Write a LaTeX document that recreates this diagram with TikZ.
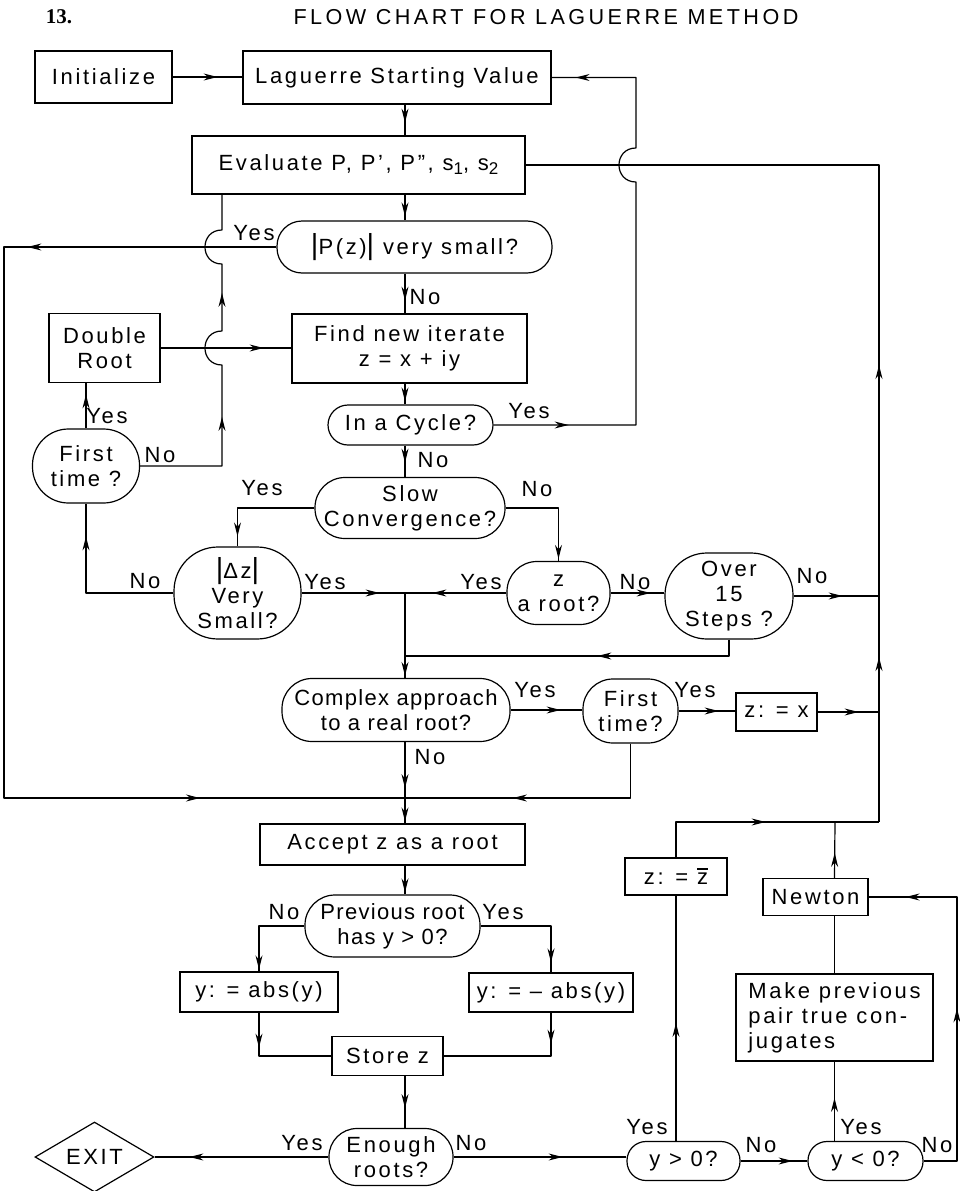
\documentclass[tikz,border=0pt]{standalone}
\usepackage{fontspec}
\setmainfont{Liberation Sans}[LetterSpace=12]
\newfontfamily\numfont{Liberation Serif}
\usetikzlibrary{arrows.meta,decorations.markings,calc,shapes.geometric}
\tikzset{
  every node/.style={font=\fontsize{22}{25}\selectfont},
  tight/.style={font=\fontsize{22}{25}\selectfont\addfontfeatures{LetterSpace=6}},
  box/.style={draw, line width=1.2pt, inner sep=0pt, align=center},
  term/.style={box, rounded corners=#1},
  lbl/.style={inner sep=0pt},
  conn/.style={line width=1.2pt, line join=round},
  arrat/.style={postaction={decorate,decoration={markings,
      mark=at position #1 with {\arrow{Stealth[length=14pt,width=7pt]}}}}},
}
\newcommand{\bigbar}{{\fontsize{29}{29}\selectfont|}}
\newcommand{\zbar}{\makebox[0pt][l]{\rule[15pt]{11pt}{1.3pt}}z}
\begin{document}
\begin{tikzpicture}[x=1pt,y=-1pt]
\useasboundingbox (0,0) rectangle (959,1191);
% title
\node[font=\numfont\bfseries\fontsize{21}{21}\selectfont] (num) at (59,17) {13.};
\node[font=\fontsize{21.6}{22}\selectfont\addfontfeatures{LetterSpace=16}] (title) at (546,17) {FLOW CHART FOR LAGUERRE METHOD};
% column coordinates
\coordinate (cx) at (405,0);
\coordinate (rx) at (879,0);
\coordinate (lx) at (4,0);
\coordinate (hx) at (222,0);
\coordinate (qx) at (636,0);
\coordinate (nx) at (957,0);
\coordinate (m15) at (727,656);
\coordinate (jb) at (405,798);
\coordinate (jn) at (835,822);
% nodes
\node[box, minimum width=137pt, minimum height=52pt] (init) at (103.5,77) {Initialize};
\node[box, minimum width=308pt, minimum height=53pt] (lag) at (397,77.5) {Laguerre Starting Value};
\node[box, minimum width=333pt, minimum height=58pt] (eval) at (358.5,165) {Evaluate P, P', P'', s\raisebox{-4pt}{\fontsize{17}{17}\selectfont 1}, s\raisebox{-4pt}{\fontsize{17}{17}\selectfont 2}};
\node[term=25pt, minimum width=275pt, minimum height=52pt] (pz) at (414.5,247) {\bigbar P(z)\bigbar\ very small?};
\node[box, minimum width=235pt, minimum height=69pt] (find) at (409.5,348.5) {Find new iterate\\z = x + iy};
\node[box, minimum width=111pt, minimum height=69pt] (dbl) at (104.5,348) {Double\\Root};
\node[term=36pt, minimum width=107pt, minimum height=74pt] (ft1) at (86,466) {First\\time ?};
\node[term=20pt, minimum width=165pt, minimum height=40pt] (cyc) at (410.5,425) {In a Cycle?};
\node[term=30pt, minimum width=190pt, minimum height=61pt] (slow) at (410,508) {Slow\\Convergence?};
\node[term=44pt, minimum width=127pt, minimum height=92pt] (dz) at (237.5,593) {\bigbar Δz\bigbar\\Very\\Small?};
\node[term=30pt, minimum width=103pt, minimum height=63pt] (zr) at (558.5,593) {z\\a root?};
\node[term=42pt, minimum width=128pt, minimum height=86pt] (o15) at (729,596) {Over\\15\\Steps ?};
\node[term=30pt, tight, minimum width=228pt, minimum height=63pt] (cplx) at (396,710) {Complex approach\\to a real root?};
\node[term=30pt, minimum width=95pt, minimum height=64pt] (ft2) at (630.5,711) {First\\time?};
\node[box, minimum width=81pt, minimum height=38pt] (zx) at (776.5,712) {z: = x};
\node[box, minimum width=265pt, minimum height=41pt] (acc) at (392.5,844.5) {Accept z as a root};
\node[term=30pt, tight, minimum width=175pt, minimum height=62pt] (prev) at (392.5,926) {Previous root\\has y > 0?};
\node[box, minimum width=158pt, minimum height=40pt] (yabs) at (259,992) {y: = abs(y)};
\node[box, minimum width=164pt, minimum height=39pt] (ynabs) at (551,992.5) {y: = – abs(y)};
\node[box, minimum width=111pt, minimum height=39pt] (store) at (387.5,1056) {Store z};
\node[term=28pt, minimum width=124pt, minimum height=57pt] (enough) at (391,1157) {Enough\\roots?};
\node[draw, line width=1.2pt, diamond, aspect=1.7, inner sep=0pt, minimum width=119pt, minimum height=70pt] (exit) at (94.5,1157) {EXIT};
\node[term=19pt, minimum width=113pt, minimum height=39pt] (ygt) at (683.5,1161) {y > 0?};
\node[term=19pt, minimum width=115pt, minimum height=39pt] (ylt) at (865.5,1161) {y < 0?};
\node[box, minimum width=102pt, minimum height=37pt] (zbar) at (676,876.5) {z: = \zbar};
\node[box, minimum width=105pt, minimum height=37pt] (newton) at (815.5,897) {Newton};
\node[box, minimum width=197pt, minimum height=87pt, align=left] (make) at (834.5,1017.5) {Make previous\\pair true con-\\jugates};
% connectors
\draw[conn, arrat=45pt] (init.east) -- (init.east -| lag.west);
\draw[conn, arrat=18pt] (lag.south -| cx) -- (eval.north -| cx);
\draw[conn, arrat=-4pt] (eval.south -| cx) -- (pz.north -| cx);
\draw[conn, arrat=27pt] (pz.south -| cx) -- (find.north -| cx);
\draw[conn, arrat=-3pt] (find.south -| cx) -- (cyc.north -| cx);
\draw[conn, arrat=17pt] (cyc.south -| cx) -- (slow.north -| cx);
\draw[conn, arrat=75pt, arrat=-24pt] (cyc.east) -- (cyc.east -| qx)
  -- ($(eval.east -| qx)+(0,17)$) .. controls +(-22.7,0) and +(-22.7,0) .. ($(eval.east -| qx)+(0,-17)$)
  -- (lag.east -| qx) -- (lag.east);
\draw[conn, arrat=-10pt] (slow.west) -- (slow.west -| dz.north) -- (dz.north);
\draw[conn, arrat=-2pt] (slow.east) -- (slow.east -| zr.north) -- (zr.north);
\draw[conn, arrat=74pt] (zr.west) -- (zr.west -| cx);
\draw[conn, arrat=78pt] (dz.east) -- (dz.east -| cx);
\draw[conn, arrat=40pt] (zr.east) -- (zr.east -| o15.west);
\draw[conn, arrat=49pt] (o15.east) -- (o15.east -| rx);
\draw[conn, arrat=148pt] (o15.south) -- (o15.south |- m15) -- (m15 -| cx);
\draw[conn, arrat=-2pt] (dz.east -| cx) -- (cplx.north -| cx);
\draw[conn, arrat=50pt] (cplx.east) -- (cplx.east -| ft2.west);
\draw[conn, arrat=40pt] (ft2.east) -- (ft2.east -| zx.west);
\draw[conn, arrat=41pt] (zx.east) -- (zx.east -| rx);
\draw[conn, arrat=172pt] (ft2.south) -- (ft2.south |- jb) -- (jb);
\draw[conn, arrat=249pt, arrat=-205pt] (pz.west) -- (pz.west -| lx) -- (jb -| lx) -- (jb);
\draw[conn, arrat=46pt, arrat=-2pt] (cplx.south -| cx) -- (acc.north -| cx);
\draw[conn, arrat=-2pt] (acc.south -| cx) -- (prev.north -| cx);
\draw[conn, arrat=-2pt] (prev.west) -- (prev.west -| yabs.north) -- (yabs.north);
\draw[conn, arrat=-10pt] (prev.east) -- (prev.east -| ynabs.north) -- (ynabs.north);
\draw[conn, arrat=35pt] (yabs.south) -- (yabs.south |- store.west) -- (store.west);
\draw[conn, arrat=31pt] (ynabs.south) -- (ynabs.south |- store.east) -- (store.east);
\draw[conn, arrat=32pt] (store.south -| cx) -- (enough.north -| cx);
\draw[conn, arrat=139pt] (enough.west) -- (enough.west -| exit.east);
\draw[conn, arrat=109pt] (enough.east) -- (enough.east -| ygt.west);
\draw[conn, arrat=118pt] (zbar.south |- ygt.north) -- (zbar.south);
\draw[conn, arrat=52pt] (ygt.east) -- (ylt.west);
\draw[conn, arrat=43pt] (make.south |- ylt.north) -- (make.south);
\draw[conn, arrat=186pt, arrat=-37pt] (ylt.east) -- (ylt.east -| nx) -- (newton.east -| nx) -- (newton.east);
\draw[conn] (make.north) -- (make.north |- newton.south);
\draw[conn, arrat=25pt] (make.north |- newton.north) -- (jn);
\draw[conn, arrat=125pt] (zbar.north) -- (zbar.north |- jn) -- (jn -| rx);
\draw[conn, arrat=165pt, arrat=457pt] (jn -| rx) -- (eval.east -| rx) -- (eval.east);
\draw[conn, arrat=131pt, arrat=275pt] (ft1.east) -- (ft1.east -| hx)
  -- ($(dbl.east -| hx)+(0,17)$) .. controls +(-22.7,0) and +(-22.7,0) .. ($(dbl.east -| hx)+(0,-17)$)
  -- ($(pz.west -| hx)+(0,17)$) .. controls +(-22.7,0) and +(-22.7,0) .. ($(pz.west -| hx)+(0,-17)$)
  -- (eval.south -| hx);
\draw[conn, arrat=103pt] (dbl.east) -- (dbl.east -| find.west);
\draw[conn, arrat=34pt] (ft1.north) -- (ft1.north |- dbl.south);
\draw[conn, arrat=144pt] (dz.west) -- (dz.west -| ft1.south) -- (ft1.south);
% labels
\node[lbl] (l1) at (254,233) {Yes};
\node[lbl] (l2) at (425,297) {No};
\node[lbl] (l3) at (107,416) {Yes};
\node[lbl] (l4) at (160,455) {No};
\node[lbl] (l5) at (529,411) {Yes};
\node[lbl] (l6) at (433,460) {No};
\node[lbl] (l7) at (262,488) {Yes};
\node[lbl] (l8) at (537,489) {No};
\node[lbl] (l9) at (145,581) {No};
\node[lbl] (l10) at (325,582) {Yes};
\node[lbl] (l11) at (481,582) {Yes};
\node[lbl] (l12) at (635,582) {No};
\node[lbl] (l13) at (812,576) {No};
\node[lbl] (l14) at (535,690) {Yes};
\node[lbl] (l15) at (695,690) {Yes};
\node[lbl] (l16) at (430,757) {No};
\node[lbl] (l17) at (284,912) {No};
\node[lbl] (l18) at (503,912) {Yes};
\node[lbl] (l19) at (302,1143) {Yes};
\node[lbl] (l20) at (471,1143) {No};
\node[lbl] (l21) at (647,1127) {Yes};
\node[lbl] (l22) at (761,1145) {No};
\node[lbl] (l23) at (861,1127) {Yes};
\node[lbl] (l24) at (937,1145) {No};
\end{tikzpicture}
\end{document}
